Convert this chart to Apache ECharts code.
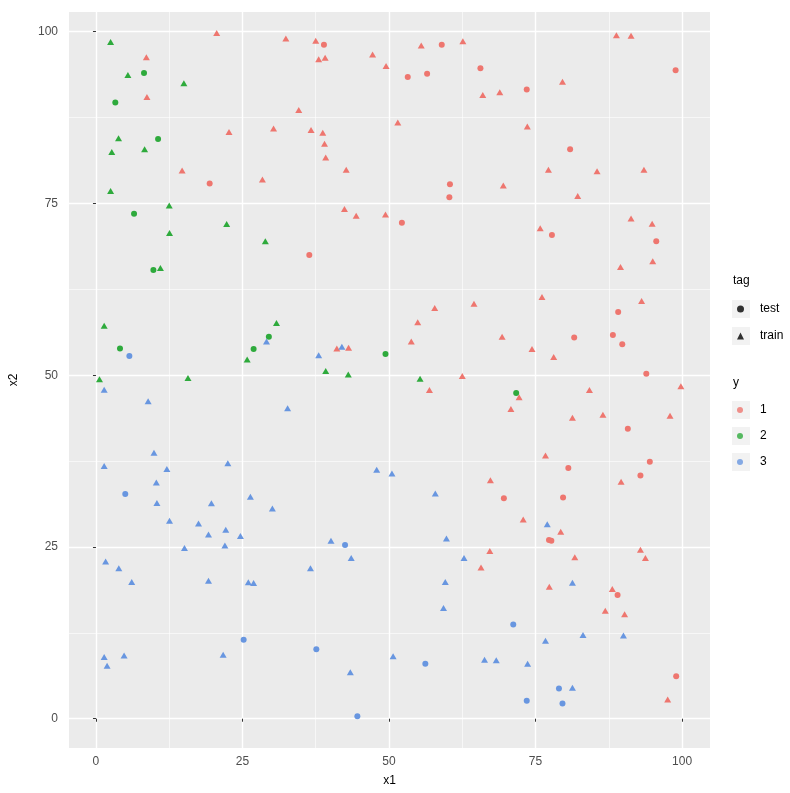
<!DOCTYPE html>
<html><head><meta charset="utf-8">
<script src="https://cdn.jsdelivr.net/npm/echarts@6/dist/echarts.min.js"></script>
<style>html,body{margin:0;padding:0;background:#fff}#c{width:790px;height:793px}</style>
</head><body><div id="c"></div>
<script>
// tick values
const xTicks = [0, 25, 50, 75, 100];
const yTicks = [0, 25, 50, 75, 100];
const xMinor = [12.5, 37.5, 62.5, 87.5];
const yMinor = [12.5, 37.5, 62.5, 87.5];
const tagLevels = ['test', 'train'];
const yLevels = ['1', '2', '3'];

// y = 1
const y1Test = [[38.9,98.1],[59.0,98.1],[53.2,93.4],[56.5,93.9],[65.6,94.7],[60.4,77.8],[60.3,75.9],[98.9,94.4],[73.5,91.6],[80.9,82.9],[19.4,77.9],[52.2,72.2],[36.4,67.5],[77.8,70.4],[95.6,69.5],[89.1,59.2],[81.6,55.5],[88.2,55.85],[89.8,54.5],[93.9,50.2],[90.75,42.2],[94.5,37.4],[80.6,36.5],[92.9,35.4],[69.6,32.1],[79.7,32.2],[77.3,26.0],[77.7,25.9],[89.0,18.0],[99.0,6.2]];
const y1Train = [[20.6,99.8],[32.4,99.0],[8.6,96.3],[8.7,90.5],[22.7,85.4],[30.3,85.9],[14.7,79.8],[28.4,78.5],[37.5,98.7],[38.0,96.0],[39.1,96.2],[47.2,96.7],[49.5,95.0],[55.5,98.0],[62.6,98.6],[66.0,90.8],[34.6,88.6],[51.5,86.8],[36.7,85.7],[38.7,85.3],[39.0,83.7],[39.2,81.7],[42.7,79.9],[88.8,99.5],[91.3,99.4],[79.6,92.7],[68.9,91.2],[73.6,86.2],[77.2,79.9],[85.5,79.7],[93.5,79.9],[69.5,77.6],[82.2,76.1],[42.4,74.2],[44.4,73.2],[49.4,73.4],[57.8,59.8],[64.5,60.4],[54.9,57.7],[53.8,54.9],[41.1,53.9],[43.1,54.0],[62.5,49.9],[91.3,72.8],[94.9,72.05],[75.8,71.4],[95.0,66.6],[89.5,65.75],[76.1,61.4],[93.1,60.8],[69.3,55.6],[74.4,53.8],[78.1,52.65],[56.9,47.85],[67.3,34.7],[67.2,24.4],[99.8,48.4],[72.2,46.8],[84.2,47.85],[70.8,45.1],[81.3,43.8],[86.5,44.25],[97.95,44.1],[76.7,38.3],[89.6,34.5],[72.9,29.0],[79.3,27.2],[92.9,24.6],[65.7,22.0],[81.7,23.5],[93.75,23.4],[77.35,19.2],[88.1,18.9],[86.9,15.7],[90.2,15.2],[97.55,2.8]];
// y = 2
const y2Test = [[8.2,94.0],[3.3,89.7],[10.6,84.4],[6.5,73.5],[9.8,65.3],[29.5,55.6],[26.9,53.8],[4.1,53.9],[49.4,53.1],[71.7,47.4]];
const y2Train = [[2.5,98.5],[5.45,93.7],[15.0,92.5],[3.85,84.5],[2.7,82.5],[8.3,82.9],[2.5,76.8],[12.5,74.7],[22.3,72.0],[12.55,70.7],[28.9,69.5],[11.0,65.6],[1.4,57.2],[30.8,57.6],[25.8,52.3],[15.7,49.6],[0.6,49.4],[39.2,50.6],[43.05,50.1],[55.3,49.5]];
// y = 3
const y3Test = [[5.7,52.8],[5.0,32.7],[42.5,25.3],[25.2,11.5],[37.6,10.1],[56.2,8.0],[44.6,0.35],[71.2,13.7],[79.0,4.4],[73.5,2.6],[79.6,2.2]];
const y3Train = [[29.1,54.9],[41.96,54.15],[38.0,52.9],[1.4,47.9],[8.9,46.2],[32.7,45.2],[9.9,38.7],[1.4,36.8],[22.5,37.2],[12.1,36.35],[10.3,34.4],[26.35,32.3],[10.4,31.4],[19.7,31.35],[30.1,30.6],[12.55,28.8],[17.5,28.4],[22.15,27.5],[19.2,26.8],[24.65,26.6],[15.1,24.85],[22.0,25.2],[47.9,36.25],[50.5,35.7],[57.9,32.8],[40.1,25.9],[59.8,26.25],[1.65,22.9],[3.9,21.9],[6.1,19.9],[19.2,20.1],[26.0,19.85],[26.9,19.75],[1.4,9.0],[4.8,9.2],[1.9,7.7],[21.7,9.3],[36.6,21.9],[43.55,23.4],[62.8,23.4],[59.6,19.9],[59.3,16.1],[50.7,9.1],[66.3,8.6],[68.3,8.5],[43.4,6.75],[77.0,28.3],[81.3,19.8],[76.7,11.35],[83.1,12.2],[90.0,12.1],[73.65,8.0],[81.3,4.5]];

const COLORS = {'1':'#EE766F','2':'#2EAA3C','3':'#6896E0'};
const SHAPES = {test:'circle', train:'triangle'};
const SIZES = {test:6, train:[7,6]};
const groups = [
  ['1','test',y1Test],['1','train',y1Train],
  ['2','test',y2Test],['2','train',y2Train],
  ['3','test',y3Test],['3','train',y3Train]
];

const FONT = 'Liberation Sans, Arial, sans-serif';
const series = groups.map(([y, tag, data]) => ({
  type:'scatter', name:'y'+y+'-'+tag, data, symbol:SHAPES[tag], symbolSize:SIZES[tag],
  itemStyle:{color:COLORS[y], opacity:1}, xAxisIndex:0, yAxisIndex:0, z:5
}));
tagLevels.forEach(t => series.push({type:'scatter', name:t, data:[], symbol:SHAPES[t], itemStyle:{color:'#000'}}));
yLevels.forEach(l => series.push({type:'scatter', name:l, data:[], symbol:'circle', itemStyle:{color:COLORS[l]}}));

const XMIN=-4.6, XMAX=104.77, YMIN=-4.26, YMAX=102.87;
const baseAxis = (min,max)=>({type:'value', min, max, scale:false});
const keyRects = [];
[300, 327, 401, 427, 453].forEach(t => keyRects.push({type:'rect', left:732, top:t, shape:{width:18, height:18}, style:{fill:'#F2F2F2'}, z:-1}));

const chart = echarts.init(document.getElementById('c'), null, {renderer:'canvas'});
chart.setOption({
  animation:false,
  textStyle:{fontFamily:FONT},
  grid:{left:68, right:80, top:12, bottom:45, show:true, backgroundColor:'#EBEBEB', borderWidth:0},
  xAxis:[
    Object.assign(baseAxis(XMIN,XMAX), {
      position:'bottom',
      axisLine:{show:false},
      axisTick:{show:true, length:3, lineStyle:{color:'#333', width:1}, customValues:xTicks},
      axisLabel:{customValues:xTicks, color:'#4D4D4D', fontSize:12, margin:8, fontFamily:FONT},
      splitLine:{show:true, lineStyle:{color:'#FFFFFF', width:1.4}},
      name:'x1', nameLocation:'middle', nameGap:27, nameTextStyle:{color:'#000', fontSize:12, fontFamily:FONT}
    }),
    Object.assign(baseAxis(XMIN,XMAX), {
      position:'bottom',
      axisLine:{show:false}, axisLabel:{show:false},
      axisTick:{show:false, customValues:xMinor},
      splitLine:{show:true, lineStyle:{color:'#FFFFFF', width:0.6}}
    })
  ],
  yAxis:[
    Object.assign(baseAxis(YMIN,YMAX), {
      position:'left',
      axisLine:{show:false},
      axisTick:{show:true, length:3, lineStyle:{color:'#333', width:1}, customValues:yTicks},
      axisLabel:{customValues:yTicks, color:'#4D4D4D', fontSize:12, margin:11, fontFamily:FONT},
      splitLine:{show:true, lineStyle:{color:'#FFFFFF', width:1.4}},
      name:'x2', nameLocation:'middle', nameGap:49, nameRotate:90, nameTextStyle:{color:'#000', fontSize:12, fontFamily:FONT}
    }),
    Object.assign(baseAxis(YMIN,YMAX), {
      position:'left',
      axisLine:{show:false}, axisLabel:{show:false},
      axisTick:{show:false, customValues:yMinor},
      splitLine:{show:true, lineStyle:{color:'#FFFFFF', width:0.6}}
    })
  ],
  legend:[
    {data:tagLevels, orient:'vertical', left:737, top:300, padding:0, itemGap:9, itemWidth:7, itemHeight:7,
     selectedMode:false, textStyle:{fontSize:12, color:'#000', lineHeight:18, padding:[0,0,0,11], fontFamily:FONT}},
    {data:yLevels, orient:'vertical', left:737, top:401, padding:0, itemGap:8, itemWidth:6, itemHeight:6,
     selectedMode:false, textStyle:{fontSize:12, color:'#000', lineHeight:18, padding:[0,0,0,12], fontFamily:FONT}}
  ],
  graphic:[
    ...keyRects,
    {type:'text', left:733, top:275, style:{text:'tag', fontSize:12, fill:'#000', fontFamily:FONT}},
    {type:'text', left:733, top:377, style:{text:'y', fontSize:12, fill:'#000', fontFamily:FONT}}
  ],
  series
});
</script></body></html>
